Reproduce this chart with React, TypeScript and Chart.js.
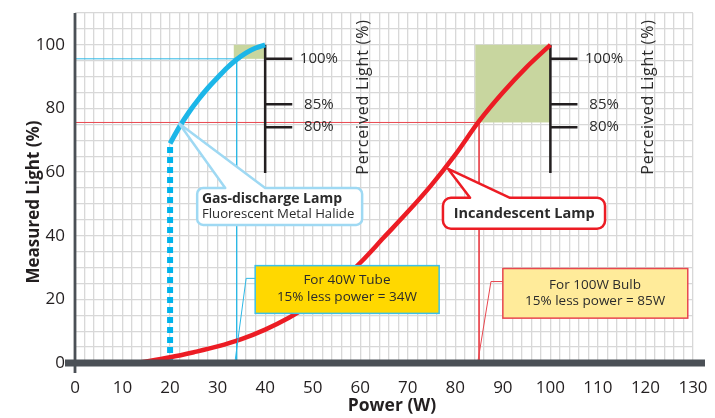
import React, { useEffect, useRef } from 'react';
import { Chart, registerables } from 'chart.js';

Chart.register(...registerables);

// ---------------- data ----------------
// Gas-discharge lamp (fluorescent / metal halide)
const gasPower = [20, 22, 24, 26, 28, 30, 32, 34, 36, 38, 40];
const gasLight = [69, 74.3, 78.9, 82.9, 86.5, 89.7, 92.8, 95.4, 97.5, 99, 100];
// Gas-discharge lamp: vertical dotted start line
const gasStartPower = [20, 20];
const gasStartLight = [0, 69];
// Incandescent lamp
const incPower = [13, 20, 25, 30, 35, 40, 45, 50, 55, 60, 65, 70, 75, 80, 85, 90, 95, 100];
const incLight = [0, 1.8, 3.4, 5.2, 7.5, 10.5, 14.2, 18.8, 24.5, 31.5, 39.5, 47.5, 56, 65.5, 76, 85, 93, 100];
// reference lines (15% less power)
const gasRefPower = [0, 34, 34];
const gasRefLight = [95.6, 95.6, 0];
const incRefPower = [0, 85, 85];
const incRefLight = [75.6, 75.6, 0];
// shaded "saving" areas
const gasSavePower = [33.4, 40];
const gasSaveLight = [95.6, 100];
const incSavePower = [84.2, 100];
const incSaveLight = [75.6, 100];
// perceived light scales
const perceivedAxisPower = [40, 100];
const perceivedRange = [100, 59.7];
const perceivedLevels = [95.6, 81.3, 74.1];
const perceivedLabels = ['100%', '85%', '80%'];
const perceivedTitle = 'Perceived Light (%)';
// axis ticks
const xMin = 0, xMax = 130, xGridStep = 2, xLabelStep = 10;
const yMin = 0, yMax = 110, yGridStep = 5, yLabelStep = 20, yLabelMax = 100;
const xTitle = 'Power (W)';
const yTitle = 'Measured Light (%)';
// callout texts
const gasCalloutText = ['Gas-discharge Lamp', 'Fluorescent Metal Halide'];
const incCalloutText = ['Incandescent Lamp'];
const tubeNoteText = ['For 40W Tube', '15% less power = 34W'];
const bulbNoteText = ['For 100W Bulb', '15% less power = 85W'];

// ---------------- styles ----------------
const FONT = '"Open Sans", "DejaVu Sans", sans-serif';
const CYAN = '#1cb6e8';
const RED = '#ec1c24';
const THIN_CYAN = '#2bb8e6';
const THIN_RED = '#e8474f';
const GREEN = '#c8d69f';
const DARK = '#4b5056';
const TEXT = '#2b2b2b';
const BLACKLINE = '#231f20';

const pts = (xs: number[], ys: number[]) => xs.map((x, i) => ({ x, y: ys[i] }));

function scalePoints(px: number, tickLen: number) {
  const out: any[] = [{ x: px, y: perceivedRange[0] }, { x: px, y: perceivedRange[1] }, { x: px, y: null }];
  perceivedLevels.forEach((l) => {
    out.push({ x: px, y: l }, { x: px + tickLen, y: l }, { x: px, y: null });
  });
  return out;
}

function roundedCallout(ctx: CanvasRenderingContext2D, l: number, t: number, r: number, b: number, rad: number, ptr?: { b0: number; b1: number; tx: number; ty: number }) {
  ctx.beginPath();
  ctx.moveTo(l + rad, t);
  if (ptr) {
    ctx.lineTo(ptr.b0, t);
    ctx.lineTo(ptr.tx, ptr.ty);
    ctx.lineTo(ptr.b1, t);
  }
  ctx.arcTo(r, t, r, b, rad);
  ctx.arcTo(r, b, l, b, rad);
  ctx.arcTo(l, b, l, t, rad);
  ctx.arcTo(l, t, r, t, rad);
  ctx.closePath();
}

const annotPlugin = {
  id: 'annot',
  beforeDatasetsDraw(chart: any) {
    const { ctx, scales } = chart;
    const x = scales.x, y = scales.y;
    ctx.save();
    ctx.fillStyle = GREEN;
    [[gasSavePower, gasSaveLight], [incSavePower, incSaveLight]].forEach(([p, l]) => {
      const x0 = x.getPixelForValue(p[0]);
      const x1 = x.getPixelForValue(p[1]);
      const y0 = y.getPixelForValue(l[0]);
      const y1 = y.getPixelForValue(l[1]);
      ctx.fillRect(x0, y1, x1 - x0, y0 - y1);
    });
    ctx.restore();
  },
  afterDatasetsDraw(chart: any) {
    const { ctx, scales, chartArea } = chart;
    const x = scales.x, y = scales.y;
    const X = (v: number) => x.getPixelForValue(v);
    const Y = (v: number) => y.getPixelForValue(v);
    ctx.save();

    // perceived % labels and titles
    ctx.fillStyle = TEXT;
    ctx.textAlign = 'center';
    ctx.textBaseline = 'middle';
    ctx.font = `15px ${FONT}`;
    perceivedAxisPower.forEach((p) => {
      perceivedLabels.forEach((lab, i) => {
        ctx.fillText(lab, X(p + 11.3), Y(perceivedLevels[i]));
      });
      ctx.save();
      ctx.translate(X(p + 20.6), Y(83.6));
      ctx.rotate(-Math.PI / 2);
      ctx.font = `16px ${FONT}`;
      (ctx as any).letterSpacing = '0.8px';
      ctx.fillText(perceivedTitle, 0, 0);
      ctx.restore();
    });

    // leader lines of notes
    ctx.lineWidth = 1;
    ctx.strokeStyle = THIN_CYAN;
    ctx.beginPath();
    ctx.moveTo(X(37.9), Y(26.6));
    ctx.lineTo(X(36), Y(26.6));
    ctx.lineTo(X(33.7), Y(0.9));
    ctx.stroke();
    ctx.strokeStyle = THIN_RED;
    ctx.beginPath();
    ctx.moveTo(X(90), Y(25.6));
    ctx.lineTo(X(87.5), Y(25.6));
    ctx.lineTo(X(84.8), Y(0.9));
    ctx.stroke();

    // gas-discharge callout
    ctx.lineJoin = 'round';
    ctx.fillStyle = '#ffffff';
    ctx.strokeStyle = '#9fd9f3';
    ctx.lineWidth = 2.5;
    roundedCallout(ctx, X(25.7), Y(55), X(60.4), Y(43.4), 6, { b0: X(31.6), b1: X(40), tx: X(21.9), ty: Y(75.3) });
    ctx.fill();
    ctx.stroke();
    ctx.fillStyle = TEXT;
    ctx.textAlign = 'left';
    ctx.font = `bold 14px ${FONT}`;
    ctx.fillText(gasCalloutText[0], X(26.7), Y(51.4));
    ctx.font = `13.2px ${FONT}`;
    ctx.fillText(gasCalloutText[1], X(26.7), Y(46.6));

    // incandescent callout
    ctx.fillStyle = '#ffffff';
    ctx.strokeStyle = RED;
    ctx.lineWidth = 2.5;
    roundedCallout(ctx, X(77.4), Y(51.9), X(111.5), Y(42.2), 8, { b0: X(83.1), b1: X(91.5), tx: X(78.5), ty: Y(61) });
    ctx.fill();
    ctx.stroke();
    ctx.fillStyle = TEXT;
    ctx.textAlign = 'center';
    ctx.font = `bold 14.5px ${FONT}`;
    ctx.fillText(incCalloutText[0], X(94.5), Y(46.9));

    // 40W tube note
    ctx.lineJoin = 'miter';
    ctx.fillStyle = '#ffd800';
    ctx.strokeStyle = '#3cc0e8';
    ctx.lineWidth = 1.5;
    ctx.fillRect(X(37.9), Y(30.6), X(76.6) - X(37.9), Y(15.6) - Y(30.6));
    ctx.strokeRect(X(37.9), Y(30.6), X(76.6) - X(37.9), Y(15.6) - Y(30.6));
    ctx.fillStyle = TEXT;
    ctx.font = `13.5px ${FONT}`;
    ctx.fillText(tubeNoteText[0], X(57.2), Y(26.1));
    ctx.fillText(tubeNoteText[1], X(57.2), Y(20.8));

    // 100W bulb note
    ctx.fillStyle = '#ffeb9a';
    ctx.strokeStyle = THIN_RED;
    ctx.fillRect(X(90), Y(29.7), X(128.9) - X(90), Y(14.1) - Y(29.7));
    ctx.strokeRect(X(90), Y(29.7), X(128.9) - X(90), Y(14.1) - Y(29.7));
    ctx.fillStyle = TEXT;
    ctx.fillText(bulbNoteText[0], X(109.4), Y(24.5));
    ctx.fillText(bulbNoteText[1], X(109.4), Y(19.5));

    // axes
    ctx.fillStyle = DARK;
    ctx.fillRect(X(0) - 1.4, chartArea.top, 2.8, Y(0) - chartArea.top + 10);
    ctx.fillRect(X(0) - 10, Y(0) - 3.5, X(130) + 12 - (X(0) - 10), 7);

    // axis titles
    ctx.fillStyle = '#231f20';
    ctx.font = `bold 17.5px ${FONT}`;
    ctx.textAlign = 'center';
    ctx.fillText(xTitle, (chartArea.left + chartArea.right) / 2 + 8, 406);
    ctx.save();
    ctx.font = `bold 17px ${FONT}`;
    ctx.translate(34, (chartArea.top + chartArea.bottom) / 2 + 14);
    ctx.rotate(-Math.PI / 2);
    ctx.fillText(yTitle, 0, 0);
    ctx.restore();

    ctx.restore();
  },
};

const App = () => {
  const ref = useRef<HTMLCanvasElement>(null);
  useEffect(() => {
    const grid = { color: '#d8d8d8', lineWidth: 1.3, drawTicks: false };
    const chart = new Chart(ref.current as HTMLCanvasElement, {
      type: 'line',
      data: {
        datasets: [
          { data: pts(gasPower, gasLight), borderColor: CYAN, borderWidth: 5, tension: 0.4, cubicInterpolationMode: 'monotone', borderCapStyle: 'butt' },
          { data: pts(incPower, incLight), borderColor: RED, borderWidth: 4.5, tension: 0.4, cubicInterpolationMode: 'monotone' },
          { data: pts(gasStartPower, gasStartLight), borderColor: '#00b4ec', borderWidth: 6, borderDash: [6, 4], borderCapStyle: 'butt', tension: 0 },
          { data: scalePoints(perceivedAxisPower[0], 5.7), borderColor: BLACKLINE, borderWidth: 2.5, tension: 0, spanGaps: false },
          { data: scalePoints(perceivedAxisPower[1], 5.7), borderColor: BLACKLINE, borderWidth: 2.5, tension: 0, spanGaps: false },
          { data: pts(gasRefPower, gasRefLight), borderColor: THIN_CYAN, borderWidth: 1, tension: 0 },
          { data: pts(incRefPower, incRefLight), borderColor: THIN_RED, borderWidth: 1, tension: 0 },
        ] as any,
      },
      options: {
        animation: false,
        responsive: true,
        maintainAspectRatio: false,
        layout: { padding: { top: 13, right: 22, left: 0, bottom: 0 } },
        elements: { point: { radius: 0, hoverRadius: 0 } },
        plugins: { legend: { display: false }, tooltip: { enabled: false } },
        events: [],
        scales: {
          x: {
            type: 'linear',
            min: xMin,
            max: xMax,
            afterFit: (s: any) => { s.height = 55; s.paddingLeft = 0; s.paddingRight = 0; },
            border: { display: false },
            grid,
            ticks: {
              stepSize: xGridStep,
              autoSkip: false,
              maxRotation: 0,
              padding: 15,
              color: '#231f20',
              font: { family: FONT, size: 17 },
              callback: (v: any) => (Math.round(v) % xLabelStep === 0 ? String(Math.round(v)) : ''),
            },
          },
          y: {
            type: 'linear',
            min: yMin,
            max: yMax,
            afterFit: (s: any) => { s.width = 75; s.paddingTop = 0; s.paddingBottom = 0; },
            border: { display: false },
            grid,
            ticks: {
              stepSize: yGridStep,
              autoSkip: false,
              padding: 10,
              color: '#231f20',
              font: { family: FONT, size: 17 },
              callback: (v: any) => (Math.round(v) % yLabelStep === 0 && v <= yLabelMax ? String(Math.round(v)) : ''),
            },
          },
        },
      } as any,
      plugins: [annotPlugin],
    });
    return () => chart.destroy();
  }, []);
  return (
    <div style={{ position: 'fixed', left: 0, top: 0, width: 715, height: 418, background: '#ffffff' }}>
      <canvas ref={ref} />
    </div>
  );
};

export default App;
